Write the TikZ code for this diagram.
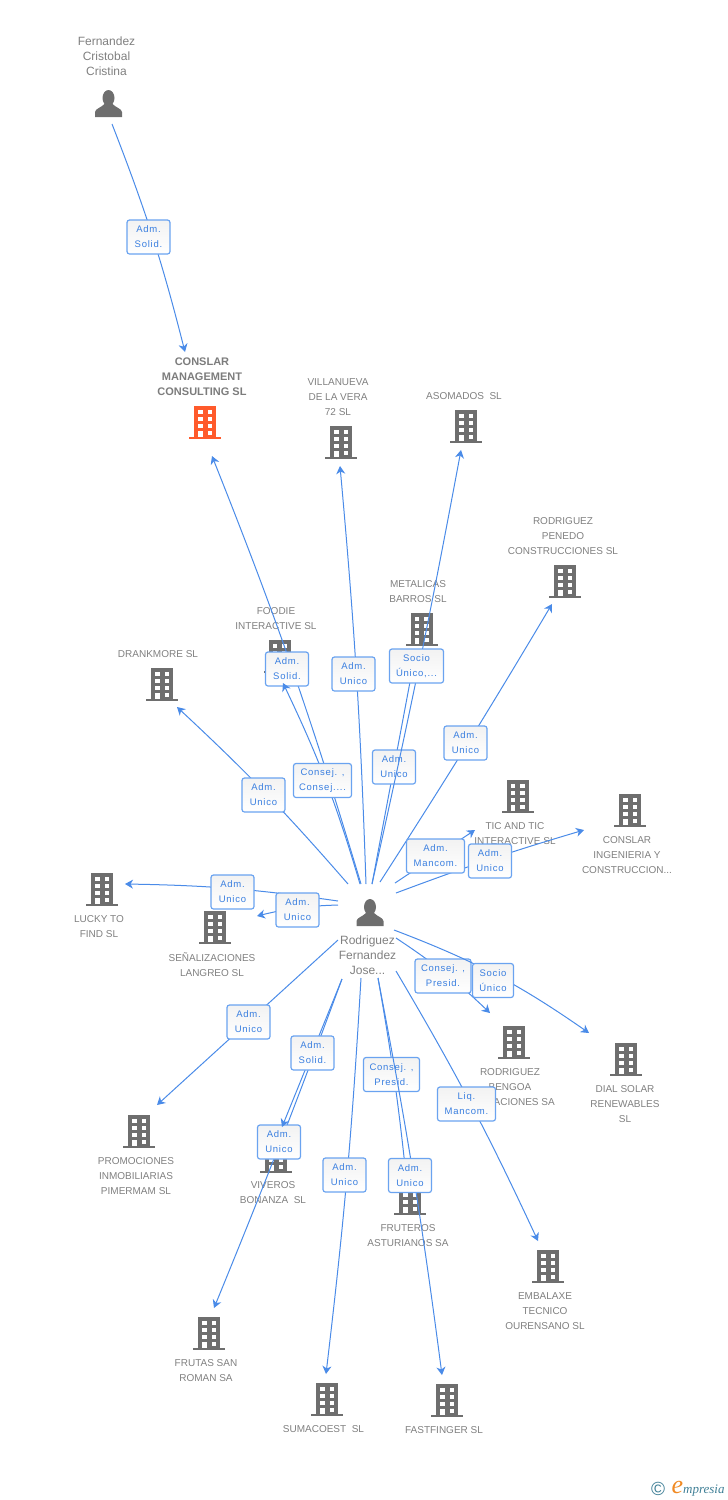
\documentclass[tikz,border=0pt]{standalone}
\usepackage{fontspec}
\setmainfont{Liberation Sans}
\newfontfamily\lblfont[LetterSpace=8]{Liberation Sans}
\newfontfamily\logofont{Liberation Serif}
\usetikzlibrary{arrows.meta}
\definecolor{connblue}{HTML}{4A8BE8}
\definecolor{lblblue}{HTML}{3A7FE0}
\definecolor{boxblue}{HTML}{6AA3F0}
\definecolor{icongray}{HTML}{6E6E6E}
\definecolor{textgray}{HTML}{808080}
\definecolor{iconorange}{HTML}{FF5A2B}
\definecolor{logoteal}{HTML}{3F7F96}
\definecolor{logoorange}{HTML}{F08A24}
\tikzset{
  conn/.style={connblue, line width=1pt, -{Stealth[length=8pt,width=9pt,inset=2.5pt]}},
  lbl/.style={draw=boxblue, line width=1.2pt, rounded corners=2.5pt, top color=black!5, bottom color=white,
    minimum width=43pt, minimum height=34pt, inner sep=0pt, align=center, text=lblblue,
    font=\lblfont\fontsize{9.5}{15}\selectfont, execute at begin node={\rule{0pt}{10pt}}},
  nametext/.style={text=textgray, align=center, inner sep=0pt, font=\fontsize{10}{15}\selectfont},
  persontext/.style={nametext, font=\fontsize{12}{15}\selectfont}
}
\newcommand{\building}[3][icongray]{
  \begin{scope}[shift={(#2,-#3)}]
    \fill[#1] (-11,0) rectangle (11,-31);
    \fill[#1] (-16,-31) rectangle (16,-33);
    \foreach \wy in {4,11,18} {
      \fill[white] (-7,-\wy) rectangle (-2.5,-\wy-4);
      \fill[white] (2.5,-\wy) rectangle (7,-\wy-4);
    }
    \fill[white] (-7,-25) rectangle (-2.5,-31);
    \fill[white] (2.5,-25) rectangle (7,-29);
  \end{scope}
}
\newcommand{\person}[2]{
  \begin{scope}[shift={(#1,-#2)}]
    \fill[icongray] (0,-8) ellipse (6 and 8);
    \fill[icongray] (-13.5,-27) -- (-13.5,-22) .. controls (-13,-18.5) and (-8,-18) .. (-4,-14)
      -- (4,-14) .. controls (8,-18) and (13,-18.5) .. (13.5,-22) -- (13.5,-27) -- cycle;
  \end{scope}
}

\begin{document}
\begin{tikzpicture}[x=1pt,y=1pt]
        \useasboundingbox (0,0) rectangle (728,-1500);

        % icons
        \person{108.5}{90}
        \person{370}{899}
        \building[iconorange]{205}{406}
        \foreach \bx/\by in {341/426,466/410,565/565,421.5/613,279.5/640,162/668,517.5/780,630/794,
            102/873,215/911,514/1026,626/1043,139/1115,276/1140,410/1182,548/1250,209/1317,327/1383,447/1384}
            \building{\bx}{\by};

        % names
        \node[persontext] (n_fernandez) at (106.5,-56) {Fernandez\\Cristobal\\Cristina};
        \node[nametext, font=\bfseries\fontsize{11}{15}\selectfont, text=icongray!90] (n_conslar) at (202,-377) {CONSLAR\\MANAGEMENT\\CONSULTING SL};
        \node[nametext] (n_villanueva) at (338,-397) {VILLANUEVA\\DE LA VERA\\72 SL};
        \node[nametext] (n_asomados) at (464,-396) {ASOMADOS\ \ SL};
        \node[nametext] (n_penedo) at (563,-536) {RODRIGUEZ\\PENEDO\\CONSTRUCCIONES SL};
        \node[nametext] (n_metalicas) at (418,-591.5) {METALICAS\\BARROS SL};
        \node[nametext] (n_foodie) at (276,-618.5) {FOODIE\\INTERACTIVE SL};
        \node[nametext] (n_drankmore) at (158,-654) {DRANKMORE SL};
        \node[nametext] (n_tic) at (515,-833.5) {TIC AND TIC\\INTERACTIVE SL};
        \node[nametext] (n_ingenieria) at (627,-855) {CONSLAR\\INGENIERIA Y\\CONSTRUCCION...};
        \node[nametext] (n_lucky) at (99,-926.5) {LUCKY TO\\FIND SL};
        \node[nametext] (n_senal) at (212,-964.5) {SEÑALIZACIONES\\LANGREO SL};
        \node[persontext] (n_hub) at (367.5,-955) {Rodriguez\\Fernandez\\Jose...};
        \node[nametext] (n_bengoa) at (510,-1087) {RODRIGUEZ\\BENGOA\\OPERACIONES SA};
        \node[nametext] (n_dial) at (625,-1104) {DIAL SOLAR\\RENEWABLES\\SL};
        \node[nametext] (n_promociones) at (136,-1176) {PROMOCIONES\\INMOBILIARIAS\\PIMERMAM SL};
        \node[nametext] (n_viveros) at (273,-1192.5) {VIVEROS\\BONANZA\ \ SL};
        \node[nametext] (n_fruteros) at (408,-1235.5) {FRUTEROS\\ASTURIANOS SA};
        \node[nametext] (n_embalaxe) at (545,-1311) {EMBALAXE\\TECNICO\\OURENSANO SL};
        \node[nametext] (n_frutas) at (206,-1370.5) {FRUTAS SAN\\ROMAN SA};
        \node[nametext] (n_sumacoest) at (323.5,-1429) {SUMACOEST\ \ SL};
        \node[nametext] (n_fastfinger) at (444,-1430) {FASTFINGER SL};

        % free ends of the connectors
        \coordinate (s_fernandez) at (112,-124);   \coordinate (e_fernandez) at (185,-352);
        \coordinate (s_conslar) at (361,-884);     \coordinate (e_conslar) at (212,-456);
        \coordinate (s_foodie) at (360,-884);      \coordinate (e_foodie) at (283,-683);
        \coordinate (s_villanueva) at (366,-884);  \coordinate (e_villanueva) at (340,-466);
        \coordinate (s_metalicas) at (372,-884);   \coordinate (e_metalicas) at (416,-650);
        \coordinate (s_asomados) at (372,-884);    \coordinate (e_asomados) at (461,-450);
        \coordinate (s_penedo) at (380,-882);      \coordinate (e_penedo) at (552,-604);
        \coordinate (s_drankmore) at (348,-884);   \coordinate (e_drankmore) at (177,-707);
        \coordinate (s_ingenieria) at (396,-893);  \coordinate (e_ingenieria) at (584,-830);
        \coordinate (s_tic) at (395,-883);         \coordinate (e_tic) at (475,-830);
        \coordinate (s_lucky) at (338,-901);       \coordinate (e_lucky) at (125,-884);
        \coordinate (s_senal) at (338,-905);       \coordinate (e_senal) at (257,-916);
        \coordinate (s_promociones) at (338,-940); \coordinate (e_promociones) at (157,-1105);
        \coordinate (s_frutas) at (342,-979);      \coordinate (e_frutas) at (214,-1308);
        \coordinate (s_viveros) at (342,-979);     \coordinate (e_viveros) at (282,-1127);
        \coordinate (s_sumacoest) at (361,-978);   \coordinate (e_sumacoest) at (326,-1374);
        \coordinate (s_fruteros) at (378,-978);    \coordinate (e_fruteros) at (407,-1185);
        \coordinate (s_fastfinger) at (378,-978);  \coordinate (e_fastfinger) at (442,-1375);
        \coordinate (s_embalaxe) at (396,-971);    \coordinate (e_embalaxe) at (538,-1241);
        \coordinate (s_bengoa) at (396,-938);      \coordinate (e_bengoa) at (490,-1013);
        \coordinate (s_dial) at (394,-930);        \coordinate (e_dial) at (589,-1033);

        % connectors, each with its label box on top
        \draw [conn] (s_fernandez) to [bend left=3.5] (e_fernandez);
        \node[lbl] (b_fernandez) at (148.5,-237) {Adm.\\Solid.};
        \draw [conn] (s_conslar) to [bend right=2.5] (e_conslar);
        \node[lbl] (b_conslar) at (287,-669) {Adm.\\Solid.};
        \draw [conn] (s_foodie) to [bend right=4.5] (e_foodie);
        \node[lbl, minimum width=58pt] (b_foodie) at (322.5,-780.5) {Consej. ,\\Consej....};
        \draw [conn] (s_villanueva) to [bend right=1.6] (e_villanueva);
        \node[lbl] (b_villanueva) at (353.5,-674) {Adm.\\Unico};
        \draw [conn] (s_metalicas) -- (e_metalicas);
        \node[lbl] (b_metalicas) at (394,-767) {Adm.\\Unico};
        \draw [conn] (s_asomados) to [bend right=1] (e_asomados);
        \node[lbl, minimum width=54pt] (b_asomados) at (416.5,-666) {Socio\\Único,...};
        \draw [conn] (s_penedo) to [bend right=1] (e_penedo);
        \node[lbl] (b_penedo) at (465.5,-743) {Adm.\\Unico};
        \draw [conn] (s_drankmore) to [bend right=3] (e_drankmore);
        \node[lbl] (b_drankmore) at (263.5,-795) {Adm.\\Unico};
        \draw [conn] (s_ingenieria) to [bend left=2] (e_ingenieria);
        \node[lbl] (b_ingenieria) at (490,-861) {Adm.\\Unico};
        \draw [conn] (s_tic) -- (e_tic);
        \node[lbl, minimum width=58pt] (b_tic) at (435.5,-856) {Adm.\\Mancom.};
        \draw [conn] (s_lucky) to [bend right=3.6] (e_lucky);
        \node[lbl] (b_lucky) at (232.5,-892) {Adm.\\Unico};
        \draw [conn] (s_senal) to [bend right=6] (e_senal);
        \node[lbl] (b_senal) at (297.5,-910) {Adm.\\Unico};
        \draw [conn] (s_promociones) -- (e_promociones);
        \node[lbl] (b_promociones) at (248.5,-1022) {Adm.\\Unico};
        \draw [conn] (s_frutas) to [bend left=1] (e_frutas);
        \node[lbl] (b_frutas) at (279,-1142) {Adm.\\Unico};
        \draw [conn] (s_viveros) -- (e_viveros);
        \node[lbl] (b_viveros) at (312.5,-1053) {Adm.\\Solid.};
        \draw [conn] (s_sumacoest) to [bend left=1.7] (e_sumacoest);
        \node[lbl] (b_sumacoest) at (344.5,-1175) {Adm.\\Unico};
        \draw [conn] (s_fruteros) to [bend left=2] (e_fruteros);
        \node[lbl, minimum width=56pt] (b_fruteros) at (391.5,-1074.5) {Consej. ,\\Presid.};
        \draw [conn] (s_fastfinger) to [bend left=1.7] (e_fastfinger);
        \node[lbl] (b_fastfinger) at (410,-1175.5) {Adm.\\Unico};
        \draw [conn] (s_embalaxe) to [bend left=2.8] (e_embalaxe);
        \node[lbl, minimum width=58pt] (b_embalaxe) at (466.5,-1104) {Liq.\\Mancom.};
        \draw [conn] (s_bengoa) to [bend left=5] (e_bengoa);
        \node[lbl, minimum width=56pt] (b_bengoa) at (443,-976) {Consej. ,\\Presid.};
        \draw [conn] (s_dial) to [bend left=7] (e_dial);
        \node[lbl, minimum width=41pt] (b_dial) at (493,-980.5) {Socio\\Único};

        % logo
        \node[inner sep=0pt, text=logoteal, font=\fontsize{19}{19}\selectfont] (logo_c) at (658,-1489) {©};
        \node[inner sep=0pt, text=logoorange, font=\logofont\itshape\fontsize{26}{26}\selectfont] (logo_e) at (677.5,-1487) {e};
        \node[inner sep=0pt, anchor=base west, text=logoteal, font=\logofont\itshape\fontsize{13}{13}\selectfont] (logo_t) at (683,-1493) {mpresia};
\end{tikzpicture}
\end{document}
